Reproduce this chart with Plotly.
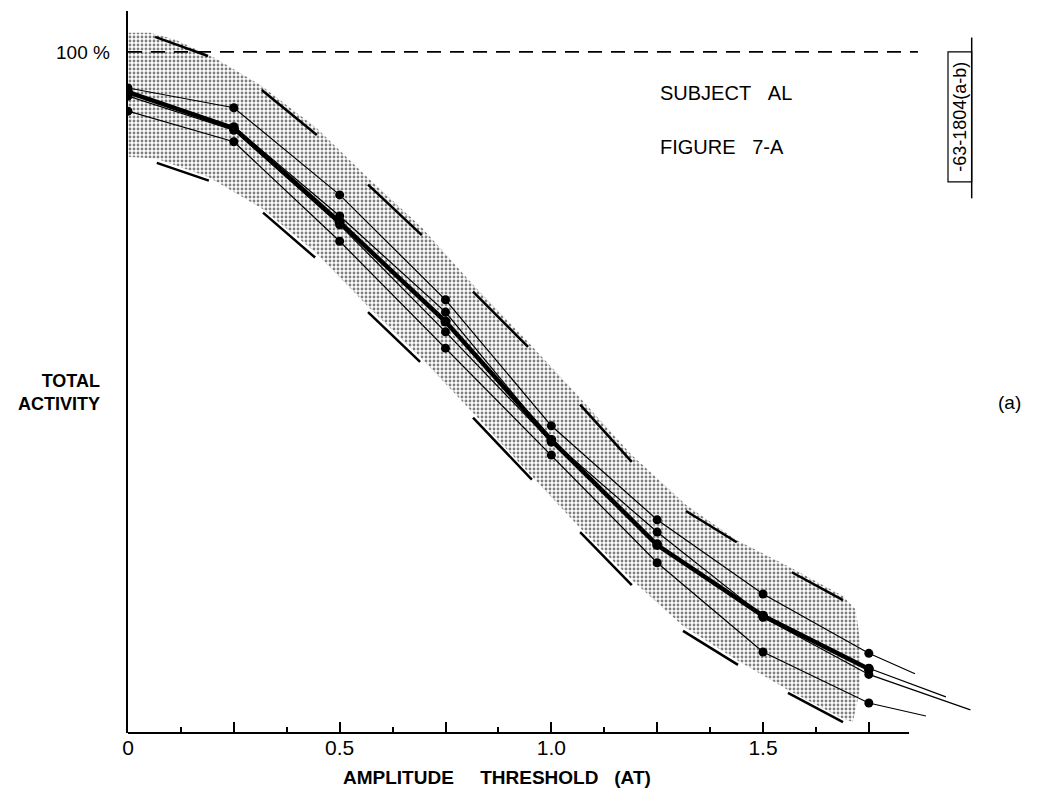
import plotly.graph_objects as go

# ---------------- data ----------------
amplitude = [0, 0.25, 0.5, 0.75, 1.0, 1.25, 1.5, 1.75]

series_a = [94.7, 91.8, 79.0, 63.6, 45.1, 31.3, 20.4, 11.7]
series_b = [94.0, 89.0, 75.9, 61.8, 43.0, 29.5, 17.2, 9.5]
series_c = [93.5, 88.5, 74.6, 58.9, 42.7, 27.8, 17.0, 8.6]
series_d = [91.3, 86.8, 72.2, 56.5, 40.8, 25.0, 11.9, 4.4]
series_mean = [94.1, 88.8, 75.0, 60.4, 43.0, 27.6, 17.2, 9.4]

# extrapolated ends of each thin series (no marker)
ext_x = [1.859, 1.932, 1.99, 1.885]
ext_y = [8.7, 5.3, 3.4, 2.5]

# stippled confidence band
band_upper_x = [0, 0.052, 0.111, 0.205, 0.316, 0.446, 0.567, 0.694, 0.815, 0.945,
                1.068, 1.190, 1.318, 1.438, 1.568, 1.689, 1.719, 1.729, 1.729, 1.712]
band_upper_y = [102.8, 102.8, 101.8, 99.1, 95.0, 88.8, 81.5, 74.2, 65.8, 57.4,
                49.2, 40.8, 33.5, 28.3, 24.2, 20.1, 18.1, 13.7, 6.3, 1.6]
band_lower_x = [0, 0.068, 0.191, 0.319, 0.442, 0.567, 0.690, 0.815, 0.954,
                1.068, 1.190, 1.311, 1.441, 1.559, 1.689, 1.712]
band_lower_y = [84.6, 84.3, 81.6, 76.9, 70.6, 62.6, 55.2, 47.0, 37.7,
                30.1, 22.5, 15.7, 10.6, 6.3, 2.1, 1.6]

# short limit bars drawn outside the band
upper_bars = [((0.064, 102.2), (0.189, 99.4)), ((0.316, 94.4), (0.446, 87.8)),
              ((0.567, 80.5), (0.694, 73.1)), ((0.815, 64.8), (0.945, 56.7)),
              ((1.068, 48.2), (1.190, 39.8)), ((1.318, 32.6), (1.438, 28.0)),
              ((1.568, 23.6), (1.689, 19.5))]
lower_bars = [((0.068, 83.7), (0.191, 81.1)), ((0.319, 76.4), (0.442, 69.8)),
              ((0.567, 61.8), (0.690, 54.5)), ((0.815, 46.3), (0.954, 37.2)),
              ((1.068, 29.5), (1.190, 21.7)), ((1.311, 15.0), (1.441, 10.0)),
              ((1.559, 5.9), (1.689, 1.6))]

tick_vals = [0, 0.25, 0.5, 0.75, 1.0, 1.25, 1.5, 1.75]
tick_text = ["0", "", "0.5", "", "1.0", "", "1.5", ""]
minor_tick_vals = [0.125, 0.375, 0.625, 0.875, 1.125, 1.375, 1.625]

FONT = "Liberation Sans"
fig = go.Figure()

# band
fig.add_trace(go.Scatter(
    x=band_upper_x + band_lower_x[::-1],
    y=band_upper_y + band_lower_y[::-1],
    fill="toself", mode="none",
    fillcolor="rgba(0,0,0,0)",
    fillpattern=dict(shape=".", size=4, solidity=0.4, fgcolor="black", bgcolor="white"),
    hoverinfo="skip", showlegend=False))

# limit bars
bx, by = [], []
for (p0, p1) in upper_bars + lower_bars:
    bx += [p0[0], p1[0], None]
    by += [p0[1], p1[1], None]
fig.add_trace(go.Scatter(x=bx, y=by, mode="lines",
                         line=dict(color="black", width=2.5),
                         hoverinfo="skip", showlegend=False))

# thin series: lines (with extrapolated tail) then markers
for ys, ex, ey in zip([series_a, series_b, series_c, series_d], ext_x, ext_y):
    fig.add_trace(go.Scatter(
        x=amplitude + [ex], y=ys + [ey], mode="lines",
        line=dict(color="black", width=1.2), showlegend=False))
    fig.add_trace(go.Scatter(
        x=amplitude, y=ys, mode="markers",
        marker=dict(color="black", size=9, line=dict(width=0)),
        showlegend=False))

# mean (thick)
fig.add_trace(go.Scatter(
    x=amplitude, y=series_mean, mode="lines+markers",
    line=dict(color="black", width=4.5),
    marker=dict(color="black", size=10, line=dict(width=0)),
    showlegend=False))

# reference 100% dashed line
fig.add_shape(type="line", x0=0, x1=1.866, y0=100, y1=100,
              line=dict(color="black", width=1.8, dash="14px,9px"))
# x axis line (partial)
fig.add_shape(type="line", xref="x", yref="paper", x0=0, x1=1.845, y0=0, y1=0,
              line=dict(color="black", width=2))
# right side label box
fig.add_shape(type="line", x0=1.993, x1=1.993, y0=78.5, y1=102.1,
              line=dict(color="black", width=1.5))
fig.add_shape(type="rect", x0=1.937, x1=1.993, y0=80.9, y1=100.0,
              line=dict(color="black", width=1.2))

ann_font = dict(family=FONT, size=20, color="black")
fig.add_annotation(x=-0.018, y=0.9432, xref="paper", yref="paper", text="100\u00a0%",
                   showarrow=False, xanchor="right", yanchor="middle",
                   font=dict(family=FONT, size=19, color="black"))
fig.add_annotation(x=1.252, y=94.0, text="SUBJECT\u00a0\u00a0\u00a0AL", showarrow=False,
                   xanchor="left", yanchor="middle", font=ann_font)
fig.add_annotation(x=1.252, y=86.0, text="FIGURE\u00a0\u00a0\u00a07-A", showarrow=False,
                   xanchor="left", yanchor="middle", font=ann_font)
fig.add_annotation(x=-0.029, y=0.4716, xref="paper", yref="paper",
                   text="<b>TOTAL</b><br><b>ACTIVITY</b>", showarrow=False,
                   xanchor="right", yanchor="middle", align="right",
                   font=dict(family=FONT, size=18, color="black"))
fig.add_annotation(x=0.2396, y=-0.0623, xref="paper", yref="paper",
                   text="<b>AMPLITUDE\u00a0\u00a0\u00a0\u00a0\u00a0THRESHOLD\u00a0\u00a0\u00a0(AT)</b>",
                   showarrow=False, xanchor="left", yanchor="middle",
                   font=dict(family=FONT, size=19, color="black"))
fig.add_annotation(x=1.965, y=90.45, text="-63-1804(a-b)", textangle=-90,
                   showarrow=False, xanchor="center", yanchor="middle",
                   font=dict(family=FONT, size=18, color="black"))
fig.add_annotation(x=2.083, y=48.5, text="(a)", showarrow=False,
                   xanchor="center", yanchor="middle",
                   font=dict(family=FONT, size=19, color="black"))

fig.update_layout(
    width=1050, height=794,
    margin=dict(l=128, r=33, t=11, b=61),
    paper_bgcolor="white", plot_bgcolor="white",
    showlegend=False,
    xaxis=dict(range=[0, 2.1], tickmode="array", tickvals=tick_vals, ticktext=tick_text,
               ticks="inside", ticklen=11, tickwidth=1.5, tickcolor="black",
               minor=dict(tickmode="array", tickvals=minor_tick_vals, ticks="inside",
                          ticklen=6, tickwidth=1.5, tickcolor="black", showgrid=False),
               showgrid=False, zeroline=False, showline=False,
               tickfont=dict(family=FONT, size=21, color="black")),
    yaxis=dict(range=[0, 106], showticklabels=False, ticks="", showgrid=False,
               zeroline=False, showline=True, linecolor="black", linewidth=2),
)

fig.write_html("out.html")
